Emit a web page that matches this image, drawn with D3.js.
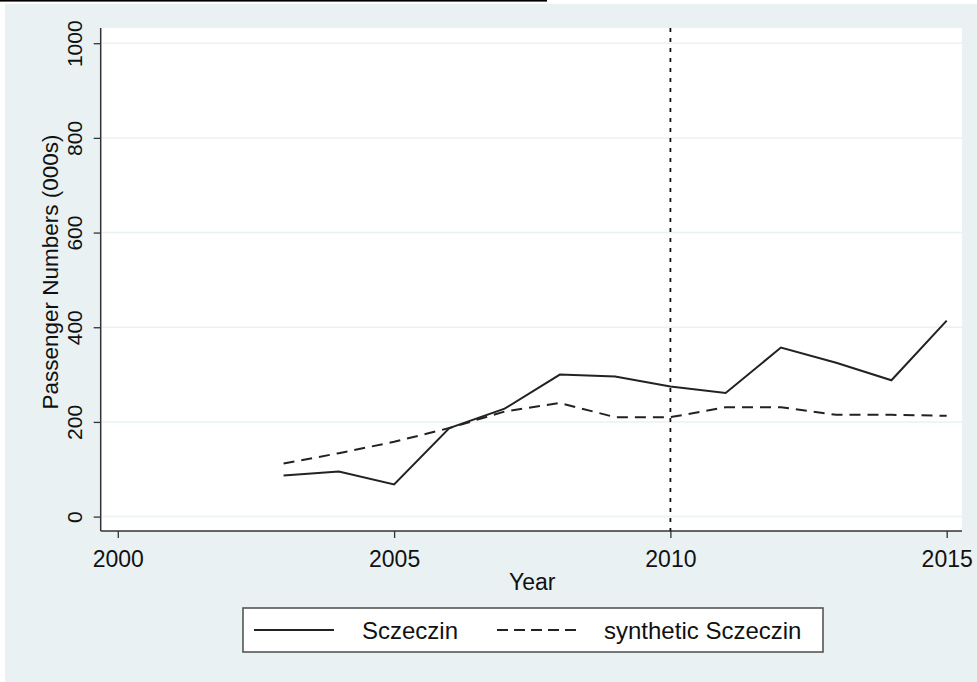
<!DOCTYPE html>
<html>
<head>
<meta charset="utf-8">
<script src="https://cdn.jsdelivr.net/npm/d3@7"></script>
<style>
  html, body { margin: 0; padding: 0; background: #ffffff; }
  svg { display: block; }
  text { font-family: "Liberation Sans", Arial, sans-serif; fill: #111; }
</style>
</head>
<body>
<script>
// ---- data ----
const years = [2003, 2004, 2005, 2006, 2007, 2008, 2009, 2010, 2011, 2012, 2013, 2014, 2015];
const actualValues = [87, 95, 68, 187, 228, 300, 296, 275, 261, 357, 325, 288, 414];
const syntheticValues = [112, 134, 158, 187, 222, 240, 210, 210, 231, 231, 215, 215, 213];
const xTicks = [2000, 2005, 2010, 2015];
const yTicks = [0, 200, 400, 600, 800, 1000];
const seriesNames = ["Sczeczin", "synthetic Sczeczin"];
const treatmentYear = 2010;
const xTitle = "Year";
const yTitle = "Passenger Numbers (000s)";

const W = 977, H = 682;
const svg = d3.select("body").append("svg").attr("width", W).attr("height", H);

// page top: cut caption underline
svg.append("rect").attr("x", 0).attr("y", 0).attr("width", 547).attr("height", 1.6).attr("fill", "#000");

// outer graph region
svg.append("rect").attr("x", 5).attr("y", 4).attr("width", W - 5).attr("height", H - 4).attr("fill", "#e9f1f3");

// plot region
const plot = { left: 100.7, right: 962, top: 28, bottom: 531 };
svg.append("rect").attr("x", plot.left).attr("y", plot.top)
  .attr("width", plot.right - plot.left).attr("height", plot.bottom - plot.top).attr("fill", "#ffffff");

const x = d3.scaleLinear().domain([2000, 2015]).range([117.8, 946.7]);
const y = d3.scaleLinear().domain([0, 1000]).range([516.6, 43.2]);

// gridlines
svg.append("g").selectAll("line").data(yTicks).join("line")
  .attr("x1", plot.left + 1).attr("x2", plot.right)
  .attr("y1", d => y(d)).attr("y2", d => y(d))
  .attr("stroke", "#eaf2f3").attr("stroke-width", 1.5);

// axes
const axisColor = "#333";
const yAxis = svg.append("g").attr("transform", `translate(${plot.left},0)`)
  .call(d3.axisLeft(y).tickValues(yTicks).tickSize(7).tickFormat(d3.format("d")));
yAxis.select(".domain").remove();
yAxis.append("line").attr("x1", 0).attr("x2", 0).attr("y1", plot.top).attr("y2", plot.bottom)
  .attr("stroke", axisColor).attr("stroke-width", 1.5);
yAxis.selectAll(".tick line").attr("stroke", axisColor).attr("stroke-width", 1.3);
yAxis.selectAll(".tick text")
  .attr("x", null).attr("dy", null)
  .attr("transform", "translate(-19,0) rotate(-90)")
  .attr("text-anchor", "middle")
  .style("font-size", "21px").style("font-family", "Liberation Sans, Arial, sans-serif").attr("fill", "#111");

const xAxis = svg.append("g").attr("transform", `translate(0,${plot.bottom})`)
  .call(d3.axisBottom(x).tickValues(xTicks).tickSize(7).tickFormat(d3.format("d")));
xAxis.select(".domain").remove();
xAxis.append("line").attr("x1", plot.left).attr("x2", plot.right).attr("y1", 0).attr("y2", 0)
  .attr("stroke", axisColor).attr("stroke-width", 1.5);
xAxis.selectAll(".tick line").attr("stroke", axisColor).attr("stroke-width", 1.3);
xAxis.selectAll(".tick text")
  .attr("y", 36).attr("dy", null)
  .style("font-size", "23px").style("font-family", "Liberation Sans, Arial, sans-serif").attr("fill", "#111");

// titles
svg.append("text").attr("x", (x(2000) + x(2015)) / 2).attr("y", 590)
  .attr("text-anchor", "middle").style("font-size", "23px").text(xTitle);
svg.append("text").attr("transform", `translate(58,${272}) rotate(-90)`)
  .attr("text-anchor", "middle").style("font-size", "22.5px").text(yTitle);

// treatment line
svg.append("line").attr("x1", x(treatmentYear)).attr("x2", x(treatmentYear))
  .attr("y1", plot.top).attr("y2", plot.bottom)
  .attr("stroke", "#111").attr("stroke-width", 1.8).attr("stroke-dasharray", "4,6");

// series
const line = d3.line().x((d, i) => x(years[i])).y(d => y(d));
svg.append("path").datum(syntheticValues).attr("d", line)
  .attr("fill", "none").attr("stroke", "#222").attr("stroke-width", 2).attr("stroke-dasharray", "11,7");
svg.append("path").datum(actualValues).attr("d", line)
  .attr("fill", "none").attr("stroke", "#222").attr("stroke-width", 2);

// legend
const lg = svg.append("g");
lg.append("rect").attr("x", 243).attr("y", 608).attr("width", 580).attr("height", 44)
  .attr("fill", "#fff").attr("stroke", "#555").attr("stroke-width", 1.6);
const legendItems = [
  { name: seriesNames[0], dash: null, x0: 254, tx: 362 },
  { name: seriesNames[1], dash: "11,6", x0: 497, tx: 604 }
];
legendItems.forEach(it => {
  lg.append("line").attr("x1", it.x0).attr("x2", it.x0 + 80).attr("y1", 630).attr("y2", 630)
    .attr("stroke", "#222").attr("stroke-width", 2).attr("stroke-dasharray", it.dash);
  lg.append("text").attr("x", it.tx).attr("y", 639).style("font-size", "24px").text(it.name);
});
</script>
</body>
</html>
